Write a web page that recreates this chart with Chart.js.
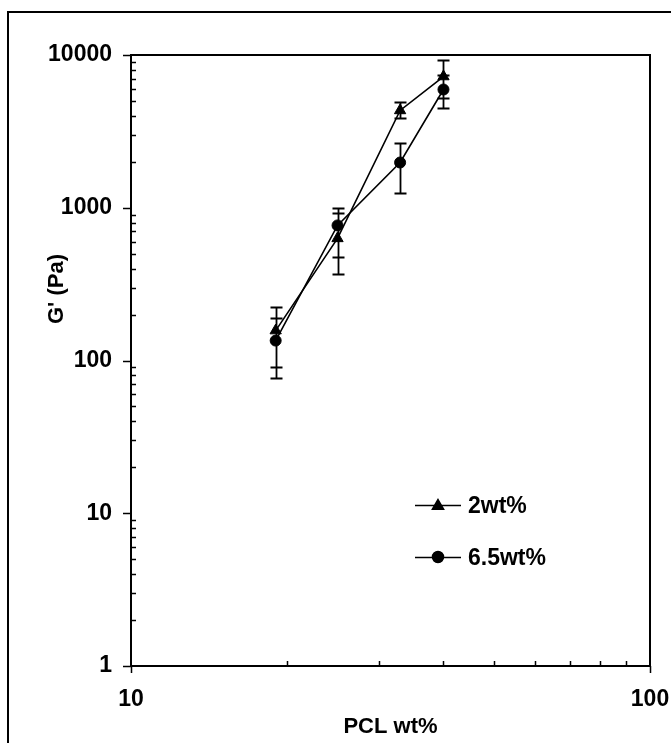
<!DOCTYPE html>
<html><head><meta charset="utf-8">
<script src="https://cdn.jsdelivr.net/npm/chart.js@4"></script>
<style>html,body{margin:0;padding:0;background:#fff;overflow:hidden}</style>
</head><body>
<canvas id="c" width="671" height="743"></canvas>
<script>
const pclWt = [19, 25, 33, 40];
const g2wt = [157, 630, 4335, 7230];
const g2wtHigh = [223, 930, 4910, 9340];
const g2wtLow = [91, 366, 3860, 5240];
const g65wt = [135, 766, 1978, 5944];
const g65wtHigh = [190, 991, 2640, 7400];
const g65wtLow = [77, 473, 1240, 4490];
const xTicks = [10, 100];
const yTicks = [1, 10, 100, 1000, 10000];
const seriesNames = ['2wt%', '6.5wt%'];
const xTitle = 'PCL wt%';
const yTitle = "G' (Pa)";

const FAMILY = '"Liberation Sans", Arial, sans-serif';
const FONT = 'bold 22px ' + FAMILY;
const LEGEND_FONT = 'bold 23px ' + FAMILY;

const toPts = (xs, ys) => xs.map((x, i) => ({x: x, y: ys[i]}));

const decor = {
  id: 'decor',
  beforeDatasetsDraw(chart) {
    const ctx = chart.ctx, xs = chart.scales.x, ys = chart.scales.y;
    const a = chart.chartArea;
    ctx.save();
    ctx.strokeStyle = '#000';
    // outer frame
    ctx.lineWidth = 2;
    ctx.beginPath();
    ctx.moveTo(8, 743); ctx.lineTo(8, 12); ctx.lineTo(671, 12);
    ctx.stroke();
    // plot frame
    ctx.beginPath();
    ctx.rect(a.left, a.top, a.right - a.left, a.bottom - a.top);
    ctx.stroke();
    // y ticks
    ctx.lineWidth = 1.5;
    ctx.beginPath();
    for (let d = 1; d < 10000; d *= 10) {
      for (let m = 2; m <= 9; m++) {
        const py = Math.round(ys.getPixelForValue(d * m)) + 0.5;
        ctx.moveTo(a.left, py); ctx.lineTo(a.left + 5, py);
      }
    }
    yTicks.forEach(v => {
      const py = Math.round(ys.getPixelForValue(v)) + 0.5;
      ctx.moveTo(a.left - 8, py); ctx.lineTo(a.left, py);
    });
    // x ticks
    for (let m = 2; m <= 9; m++) {
      const px = Math.round(xs.getPixelForValue(10 * m)) + 0.5;
      ctx.moveTo(px, a.bottom); ctx.lineTo(px, a.bottom - 5);
    }
    xTicks.forEach(v => {
      const px = Math.round(xs.getPixelForValue(v)) + 0.5;
      ctx.moveTo(px, a.bottom); ctx.lineTo(px, a.bottom + 7);
    });
    ctx.stroke();
    // error bars
    ctx.lineWidth = 1.8;
    const bars = [[g2wtLow, g2wtHigh], [g65wtLow, g65wtHigh]];
    ctx.beginPath();
    bars.forEach(([lo, hi]) => {
      pclWt.forEach((x, i) => {
        const px = Math.round(xs.getPixelForValue(x)) + 0.5;
        const pl = Math.round(ys.getPixelForValue(lo[i])) + 0.5;
        const ph = Math.round(ys.getPixelForValue(hi[i])) + 0.5;
        ctx.moveTo(px, pl); ctx.lineTo(px, ph);
        ctx.moveTo(px - 6, pl); ctx.lineTo(px + 6, pl);
        ctx.moveTo(px - 6, ph); ctx.lineTo(px + 6, ph);
      });
    });
    ctx.stroke();
    ctx.restore();
  },
  afterDraw(chart) {
    const ctx = chart.ctx;
    ctx.save();
    ctx.fillStyle = '#000';
    ctx.strokeStyle = '#000';
    // legend
    ctx.font = LEGEND_FONT;
    const rows = [[505, 'triangle', 6.5], [557, 'circle', 5.5]];
    rows.forEach((r, i) => {
      ctx.lineWidth = 1.5;
      ctx.beginPath();
      ctx.moveTo(415, r[0] + 0.5); ctx.lineTo(461, r[0] + 0.5);
      ctx.stroke();
      Chart.helpers.drawPoint(ctx, {pointStyle: r[1], radius: r[2], borderWidth: 1}, 438, r[0] + (r[1] === 'triangle' ? 1 : 0));
      ctx.fill();
      ctx.textAlign = 'left';
      ctx.textBaseline = 'alphabetic';
      ctx.fillText(seriesNames[i], 468, r[0] + 8);
    });
    // axis titles
    ctx.font = FONT;
    ctx.textAlign = 'center';
    ctx.fillText(xTitle, (chart.chartArea.left + chart.chartArea.right) / 2, 733);
    ctx.translate(63, 289);
    ctx.rotate(-Math.PI / 2);
    ctx.fillText(yTitle, 0, 0);
    ctx.restore();
  }
};

new Chart(document.getElementById('c'), {
  type: 'scatter',
  data: {
    datasets: [
      {label: seriesNames[0], data: toPts(pclWt, g2wt), showLine: true,
       borderColor: '#000', backgroundColor: '#000', borderWidth: 1.6,
       pointStyle: 'triangle', pointRadius: 6.5, pointBorderWidth: 1},
      {label: seriesNames[1], data: toPts(pclWt, g65wt), showLine: true,
       borderColor: '#000', backgroundColor: '#000', borderWidth: 1.6,
       pointStyle: 'circle', pointRadius: 5.5, pointBorderWidth: 1}
    ]
  },
  options: {
    responsive: false,
    animation: false,
    devicePixelRatio: 1,
    layout: {padding: {left: 0, top: 55, right: 21, bottom: 0}},
    plugins: {legend: {display: false}, tooltip: {enabled: false}},
    scales: {
      x: {
        type: 'logarithmic', min: 10, max: 100,
        grid: {display: false, drawTicks: false}, border: {display: false},
        afterBuildTicks: s => { s.ticks = xTicks.map(v => ({value: v})); },
        afterFit: s => { s.height = 77; s.paddingLeft = 0; s.paddingRight = 0; },
        ticks: {color: '#000', font: {family: FAMILY, size: 23, weight: 'bold'},
                padding: 20, maxRotation: 0, autoSkip: false, callback: v => String(v)}
      },
      y: {
        type: 'logarithmic', min: 1, max: 10000,
        grid: {display: false, drawTicks: false}, border: {display: false},
        afterBuildTicks: s => { s.ticks = yTicks.map(v => ({value: v})); },
        afterFit: s => { s.width = 131; s.paddingTop = 0; s.paddingBottom = 0; },
        ticks: {color: '#000', font: {family: FAMILY, size: 23, weight: 'bold'},
                padding: 19, autoSkip: false, callback: v => String(v)}
      }
    }
  },
  plugins: [decor]
});
</script>
</body></html>
